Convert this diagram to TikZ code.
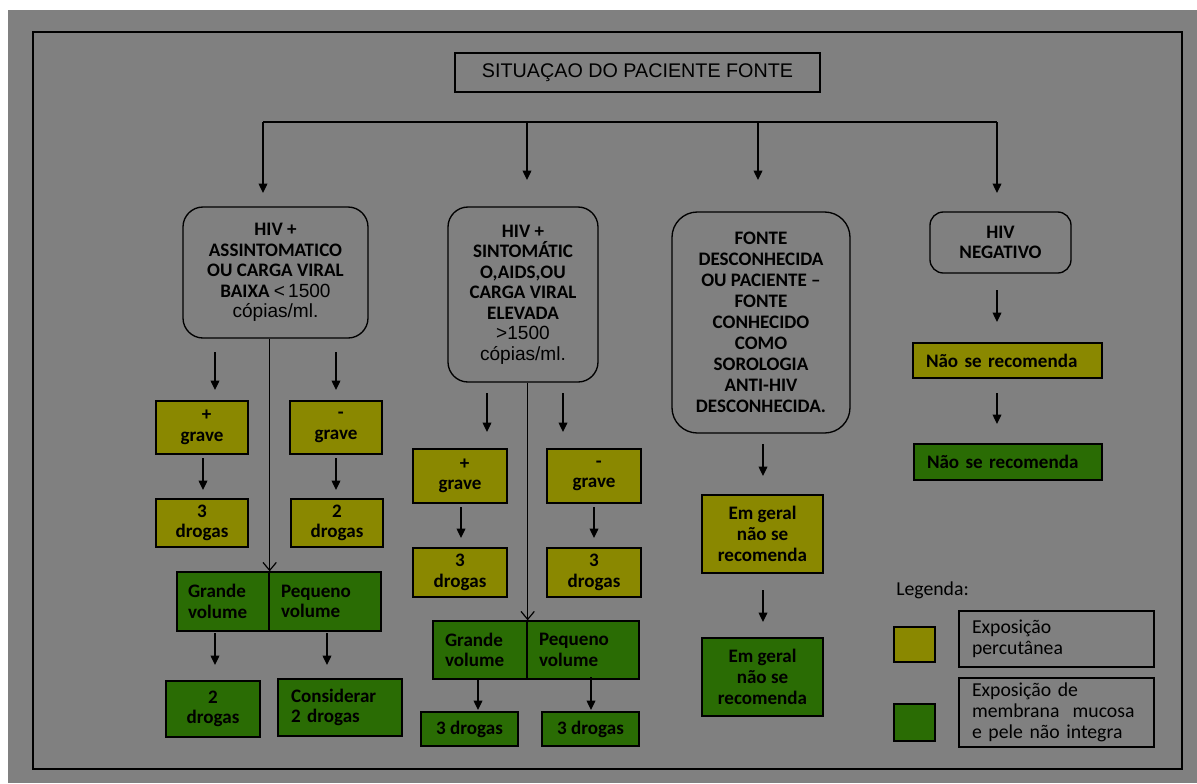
\documentclass[tikz,border=0pt]{standalone}
\usepackage{fontspec}
\setmainfont{Carlito}
\newfontfamily\arialf{Liberation Sans}
\usetikzlibrary{arrows.meta}
\definecolor{bggray}{RGB}{128,128,128}
\definecolor{yelbox}{RGB}{138,136,0}
\definecolor{grnbox}{RGB}{42,108,4}
\newcommand\boxat[7]{%
  \pgfmathsetmacro\myBW{(#5-#3)*0.75}\pgfmathsetmacro\myBH{(#6-#4)*0.75}%
  \node[#2, minimum width=\myBW pt, minimum height=\myBH pt] (#1) at ({(#3+#5)/2},{(#4+#6)/2}) {#7};}
\newcommand\lboxat[8]{%
  \pgfmathsetmacro\myTW{(#5-#3-2*#7)*0.75}\pgfmathsetmacro\myBH{(#6-#4)*0.75}\pgfmathsetmacro\myPad{#7*0.75}%
  \node[#2, inner ysep=0pt, inner xsep=\myPad pt, text width=\myTW pt, minimum height=\myBH pt, align=left] (#1) at ({(#3+#5)/2},{(#4+#6)/2}) {#8};}
\newcommand\vArrow[4]{%
  \coordinate (#1s) at (#2,#3); \coordinate (#1e) at (#2,#4);
  \draw[arr] (#1s) -- (#1e);}
\begin{document}
\begin{tikzpicture}[x=0.75pt,y=-0.75pt,
  bfont/.style={font=\bfseries\fontsize{14.3}{15.4}\selectfont},
  rbox/.style={draw=black, line width=1pt, align=center, inner sep=0pt, bfont},
  ybox/.style={draw=black, line width=1pt, fill=yelbox, align=center, inner sep=0pt, bfont},
  gbox/.style={draw=black, line width=1pt, fill=grnbox, align=center, inner sep=0pt, bfont},
  lgbox/.style={draw=black, line width=1pt, font=\fontsize{14.8}{16}\selectfont},
  arr/.style={line width=1pt, -{Triangle[width=6.5pt,length=7pt]}},
  oarr/.style={line width=0.9pt, -{Straight Barb[width=10pt,length=6pt]}}]
\useasboundingbox (0,0) rectangle (1197,783);
\fill[white] (0,0) rectangle (1197,783);
\fill[bggray] (8,10) rectangle (1197,783);
\draw[line width=1.1pt] (33,32) rectangle (1182,769);

% title
\boxat{title}{draw=black, line width=1pt, inner sep=0pt, font=\arialf\fontsize{14.8}{16}\selectfont}{455}{53}{820}{92}{SITUAÇAO DO PACIENTE FONTE}

% top distribution
\coordinate (h1) at (263,122); \coordinate (h4) at (997,122);
\draw[line width=1pt] (h1) -- (h4);
\vArrow{t1}{263}{122}{193}
\vArrow{t2}{527}{122}{180}
\vArrow{t3}{758}{122}{180}
\vArrow{t4}{997}{122}{193}

% main boxes
\boxat{A}{rbox, rounded corners=15pt}{183}{207}{368}{338}{HIV +\\ASSINTOMATICO\\OU CARGA VIRAL\\BAIXA {\arialf\mdseries <\,1500}\\{\arialf\mdseries cópias/ml.}}
\boxat{B}{rbox, rounded corners=15pt}{448}{207}{598}{382}{HIV +\\SINTOMÁTIC\\O,AIDS,OU\\CARGA VIRAL\\ELEVADA\\{\arialf\mdseries >1500}\\{\arialf\mdseries cópias/ml.}}
\boxat{C}{rbox, rounded corners=19pt, font=\bfseries\fontsize{14.3}{15.8}\selectfont}{672}{212}{850}{433}{FONTE\\DESCONHECIDA\\OU PACIENTE --\\FONTE\\CONHECIDO\\COMO\\SOROLOGIA\\ANTI-HIV\\DESCONHECIDA.}
\boxat{D}{rbox, rounded corners=10pt}{930}{212}{1071}{273}{HIV\\NEGATIVO}

% column A
\vArrow{a1}{215}{352}{390}
\vArrow{a2}{336}{352}{390}
\boxat{ya1}{ybox}{156}{401}{248}{454}{\hspace*{7pt}+\\grave}
\boxat{ya2}{ybox}{290}{401}{382}{454}{\hspace*{7pt}-\\grave}
\vArrow{a3}{203}{458}{490}
\vArrow{a4}{336}{458}{490}
\boxat{ya3}{ybox}{156}{499}{248}{547}{3\\drogas}
\boxat{ya4}{ybox}{291}{499}{383}{547}{2\\drogas}
\lboxat{gAl}{gbox}{177}{572}{269}{631}{11}{Grande\\volume}
\lboxat{gAr}{gbox}{269}{572}{381}{631}{12}{Pequeno\\volume}
\draw[oarr] (A.south -| gAl.north east) -- (gAl.north east);
\vArrow{a5}{215}{633}{665}
\vArrow{a6}{327}{633}{665}
\boxat{ga1}{gbox}{166}{681}{260}{737}{2\\drogas}
\lboxat{ga2}{gbox}{278}{679}{402}{736}{13}{Considerar\\2 drogas}

% column B
\vArrow{b1}{487}{393}{432}
\vArrow{b2}{563}{393}{432}
\boxat{yb1}{ybox}{413}{449}{507}{503}{\hspace*{7pt}+\\grave}
\boxat{yb2}{ybox}{547}{449}{641}{503}{\hspace*{7pt}-\\grave}
\vArrow{b3}{461}{507}{538}
\vArrow{b4}{594}{507}{538}
\boxat{yb3}{ybox}{413}{548}{507}{597}{3\\drogas}
\boxat{yb4}{ybox}{547}{548}{641}{597}{3\\drogas}
\lboxat{gBl}{gbox}{433}{621}{527}{679}{12}{Grande\\volume}
\lboxat{gBr}{gbox}{527}{621}{639}{679}{12}{Pequeno\\volume}
\draw[oarr] (B.south -| gBl.north east) -- (gBl.north east);
\vArrow{b5}{478}{679}{710}
\vArrow{b6}{591}{677}{710}
\boxat{gb1}{gbox}{421}{712}{518}{746}{3 drogas}
\boxat{gb2}{gbox}{542}{712}{639}{746}{3 drogas}

% column C
\vArrow{c1}{763}{444}{476}
\boxat{yc}{ybox, font=\bfseries\fontsize{14.3}{15.8}\selectfont}{702}{495}{823}{573}{Em geral\\não se\\recomenda}
\vArrow{c2}{763}{590}{622}
\boxat{gc}{gbox, font=\bfseries\fontsize{14.3}{15.8}\selectfont}{702}{638}{823}{716}{Em geral\\não se\\recomenda}

% column D
\vArrow{d1}{997}{290}{322}
\lboxat{yd}{ybox}{913}{343}{1102}{378}{13}{Não se recomenda}
\vArrow{d2}{997}{393}{424}
\lboxat{gd}{gbox}{914}{444}{1102}{480}{13}{Não se recomenda}

% legend
\node[anchor=west, inner sep=0pt, font=\fontsize{14.8}{16}\selectfont] (leg) at (896,590) {Legenda:};
\boxat{lsy}{draw=black, line width=1pt, fill=yelbox}{894}{627}{935}{662}{}
\lboxat{lty}{lgbox}{959}{611}{1154}{667}{13}{Exposição\\percutânea}
\boxat{lsg}{draw=black, line width=1pt, fill=grnbox}{894}{704}{935}{741}{}
\lboxat{ltg}{lgbox}{959}{678}{1154}{747}{13}{Exposição de\\membrana\ \ mucosa\\e pele não integra}
\end{tikzpicture}
\end{document}
